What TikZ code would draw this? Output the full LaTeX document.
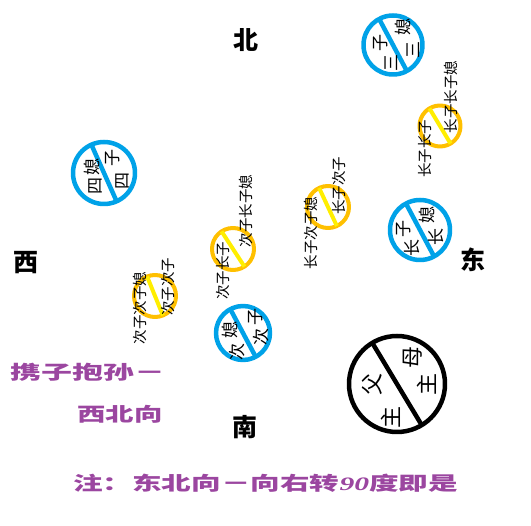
\documentclass[tikz,border=0pt]{standalone}
\usepackage{fontspec}
\newfontfamily\cjk{Noto Sans CJK SC}
\newfontfamily\numfont{Liberation Serif}
\definecolor{ringblue}{RGB}{0,162,232}
\definecolor{ringgold}{RGB}{255,192,0}
\definecolor{slashyellow}{RGB}{255,238,0}
\definecolor{notepurple}{RGB}{155,70,160}
\tikzset{
  dirlabel/.style={inner sep=0pt, font=\cjk\bfseries\fontsize{25}{25}\selectfont},
  ringchar/.style={rotate=90, inner sep=0pt, font=\cjk\fontsize{17}{17}\selectfont},
  bigchar/.style={rotate=90, inner sep=0pt, font=\cjk\fontsize{22}{22}\selectfont},
  column/.style={rotate=90, inner sep=0pt, font=\cjk\fontsize{14.5}{14.5}\selectfont},
  note/.style={inner sep=0pt, text=notepurple, font=\cjk\bfseries\fontsize{20}{20}\selectfont}
}
\begin{document}
\begin{tikzpicture}[x=1pt, y=-1pt, line join=round, line cap=round]
\fill[white] (0,0) rectangle (531,526);
\useasboundingbox (0,0) rectangle (531,526);
% directions
\node[dirlabel] (bei) at (246,40) {北};
\node[dirlabel] (xi) at (26,263) {西};
\node[dirlabel] (dong) at (473,260) {东};
\node[dirlabel] (nan) at (245,427) {南};
% gold rings, yellow slash
\foreach \cx/\cy/\r/\a in {440/126/20.5/31, 233/249/21/33, 328/207/21/25, 155/296/21/22}{
  \draw[ringgold, line width=4pt] (\cx,\cy) circle (\r);
  \draw[slashyellow, line width=4pt, line cap=butt] (\cx,\cy) ++(270-\a:\r) -- ++(90-\a:2*\r);
}
% grandchildren columns
\node[column] (c1) at (451,97) {长子长子媳};
\node[column] (c2) at (425,149) {长子长子};
\node[column] (c3) at (246,211) {次子长子媳};
\node[column] (c4) at (223,271) {次子长子};
\node[column] (c5) at (339,186) {长子次子};
\node[column] (c6) at (311,233) {长子次子媳};
\node[column] (c7) at (168,287) {次子次子};
\node[column] (c8) at (140,308) {次子次子媳};
% blue rings
\foreach \cx/\cy/\r/\a in {393/45/29.5/28, 104/173/31/24, 420/230/30/28, 243/333/27/28}{
  \draw[ringblue, line width=4.5pt] (\cx,\cy) circle (\r);
  \draw[ringblue, line width=4.5pt, line cap=butt] (\cx,\cy) ++(270-\a:\r) -- ++(90-\a:2*\r);
}
\foreach \ch/\x/\y [count=\i] in {子/381/43, 三/391/63, 媳/403/27, 三/413/50,
    媳/92/167, 四/95/186, 子/113/158, 四/122/181,
    子/404/229, 长/412/248, 媳/427/215, 长/436/237,
    子/256/317, 次/261/337, 媳/230/330, 次/237/352}
  \node[ringchar] (r\i) at (\x,\y) {\ch};
% head of family
\draw[black, line width=4.5pt] (397,384) circle (48);
\draw[black, line width=4.5pt, line cap=butt] (397,384) ++(239:48) -- ++(59:96);
\foreach \ch/\x/\y [count=\i] in {父/372/385, 主/391/418, 母/413/358, 主/427/385}
  \node[bigchar] (h\i) at (\x,\y) {\ch};
% notes
\node[note, anchor=west] (n1) at (10,372) {\scalebox{1.55}[0.95]{携子抱孙－}};
\node[note, anchor=west] (n2) at (77,414) {\scalebox{1.42}[0.95]{西北向}};
\node[note, anchor=west] (n3) at (73,483) {\scalebox{1.48}[0.95]{注：东北向－向右转{\numfont\itshape\bfseries 90}度即是}};
\end{tikzpicture}
\end{document}
